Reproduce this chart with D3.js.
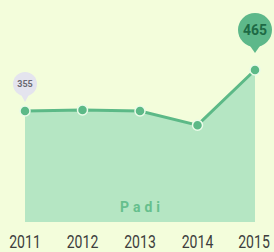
<!DOCTYPE html>
<html lang="en">
<head>
  <meta charset="UTF-8">
  <title>Padi</title>
  <script src="https://d3js.org/d3.v7.min.js"></script>
  <style>
    body { margin: 0; padding: 0; background: #f3fddb; }
    svg { display: block; font-family: Roboto, sans-serif; }
  </style>
</head>
<body>
<svg id="chart" width="274" height="252"></svg>
<script>
  const years = ["2011", "2012", "2013", "2014", "2015"];
  const values = [355, 358, 355, 317, 465];
  const seriesName = "Padi";

  const svg = d3.select("#chart");

  const x = d3.scalePoint().domain(years).range([25, 255]);
  const y = d3.scaleLinear().domain([60, 465]).range([221, 70]);

  const data = years.map((yr, i) => ({ year: yr, value: values[i] }));
  const base = y.range()[0] + 1;

  // area under the line
  svg.append("path")
    .datum(data)
    .attr("fill", "#b5e6c3")
    .attr("d", d3.area().x(d => x(d.year)).y0(base).y1(d => y(d.value)));

  svg.append("text")
    .attr("x", (x.range()[0] + x.range()[1]) / 2 + 2)
    .attr("y", 212)
    .attr("text-anchor", "middle")
    .attr("font-size", 14)
    .attr("font-weight", "bold")
    .attr("letter-spacing", 4)
    .attr("fill", "#66bf8d")
    .text(seriesName);

  svg.append("path")
    .datum(data)
    .attr("fill", "none")
    .attr("stroke", "#5cb987")
    .attr("stroke-width", 3)
    .attr("d", d3.line().x(d => x(d.year)).y(d => y(d.value)));

  svg.selectAll("circle.pt")
    .data(data)
    .enter().append("circle")
      .attr("class", "pt")
      .attr("cx", d => x(d.year))
      .attr("cy", d => y(d.value))
      .attr("r", 5)
      .attr("fill", "#5cb987")
      .attr("stroke", "#eafbe8")
      .attr("stroke-width", 1.5);

  // value bubbles for first and last point
  function bubble(d, r, off, fill, color, size) {
    const cx = x(d.year), cy = y(d.value) - off;
    const g = svg.append("g").attr("transform", `translate(${cx},${cy})`);
    g.append("path")
      .attr("fill", fill)
      .attr("d", `M${-r * 0.35},${r * 0.85} L0,${r + 6} L${r * 0.35},${r * 0.85} Z`);
    g.append("circle").attr("r", r).attr("fill", fill);
    g.append("text")
      .attr("text-anchor", "middle")
      .attr("dy", "0.36em")
      .attr("font-size", size)
      .attr("font-weight", "bold")
      .attr("fill", color)
      .text(d.value);
  }
  bubble(data[0], 12, 27, "#e4e4ee", "#6a6a72", 9);
  bubble(data[data.length - 1], 17, 40, "#5db88a", "#1d6a45", 14);

  // condensed-looking year labels
  svg.selectAll("g.year")
    .data(years)
    .enter().append("g")
      .attr("class", "year")
      .attr("transform", (d, i) => `translate(${x(d) - (i === years.length - 1 ? 1 : 0)},248) scale(0.78,1)`)
    .append("text")
      .attr("text-anchor", "middle")
      .attr("font-size", 18)
      .attr("fill", "#3d3d3d")
      .text(d => d);
</script>
</body>
</html>
